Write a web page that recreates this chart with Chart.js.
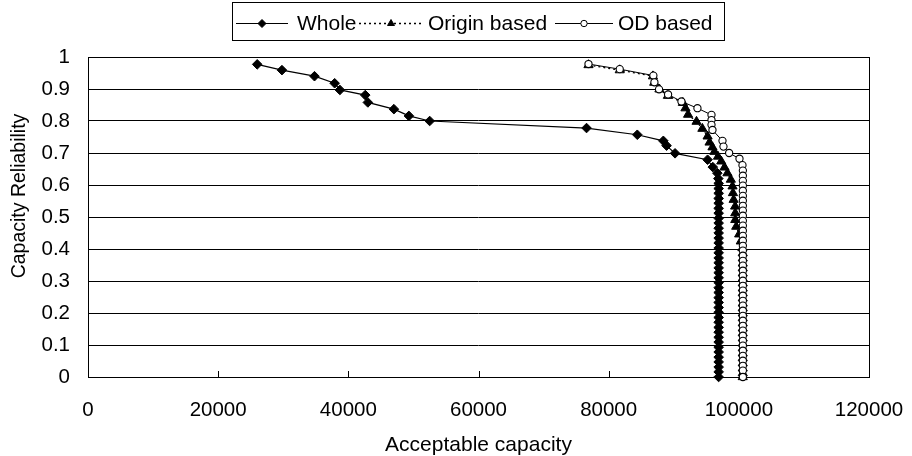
<!DOCTYPE html>
<html><head><meta charset="utf-8">
<script src="https://cdn.jsdelivr.net/npm/chart.js@4.4.0/dist/chart.umd.min.js"></script>
<style>html,body{margin:0;padding:0;background:#fff;}#wrap{width:912px;height:456px;}</style>
</head><body><div id="wrap"><canvas id="c" width="912" height="456"></canvas></div>
<script>
const seriesNames = ['Whole', 'Origin based', 'OD based'];
const xTickLabels = ['0','20000','40000','60000','80000','100000','120000'];
const yTickLabels = ['0','0.1','0.2','0.3','0.4','0.5','0.6','0.7','0.8','0.9','1'];
const xTitle = 'Acceptable capacity';
const yTitle = 'Capacity Reliability';

const wholeCapacity = [26000,29800,34800,37900,38700,42600,43000,47000,49300,52500,76600,84400,88400,88900,90200,95200,96000,96700,96850,
  96900,96900,96900,96900,96900,96900,96900,96900,96900,96900,
  96900,96900,96900,96900,96900,96900,96900,96900,96900,96900,
  96900,96900,96900,96900,96900,96900,96900,96900,96900,96900,
  96900,96900,96900,96900,96900,96900,96900,96900,96900,96900];
const wholeReliability = [0.977,0.959,0.94,0.918,0.897,0.881,0.858,0.837,0.816,0.8,0.778,0.757,0.738,0.723,0.699,0.679,0.656,0.637,
  0.62,0.605,0.589,0.574,0.558,0.543,0.527,0.512,0.496,0.481,
  0.465,0.45,0.434,0.419,0.403,0.388,0.372,0.357,0.341,0.326,
  0.31,0.295,0.279,0.264,0.248,0.233,0.217,0.202,0.186,0.171,
  0.155,0.14,0.124,0.109,0.093,0.078,0.062,0.047,0.031,0.016,0];

const originCapacity = [76900,81700,86800,87000,87800,89100,91400,91800,92200,93500,94400,95200,95500,95950,96250,96800,97300,97800,98250,98770,99030,99100,99200,99430,99450,99450,99600,100050,100300,100550,
  100600,100600,100600,100600,100600,100600,100600,100600,100600,100600,
  100600,100600,100600,100600,100600,100600,100600,100600,100600,100600,
  100600,100600,100600,100600,100600,100600];
const originReliability = [0.975,0.959,0.94,0.92,0.899,0.879,0.857,0.84,0.82,0.798,0.776,0.752,0.733,0.718,0.704,0.689,0.674,0.655,0.637,0.617,0.596,0.575,0.554,0.533,0.512,0.491,0.47,0.446,0.424,0.403,
  0.387,0.371,0.355,0.34,0.324,0.308,0.293,0.277,0.262,0.246,
  0.23,0.215,0.199,0.184,0.168,0.152,0.137,0.121,0.105,0.09,
  0.074,0.059,0.043,0.027,0.012,0];

const odCapacity = [76900,81700,86870,87030,87740,89130,91180,93640,95800,95800,95800,95950,97490,97640,98510,100100,100560,
  100620,100620,100620,100620,100620,100620,100620,100620,100620,100620,
  100620,100620,100620,100620,100620,100620,100620,100620,100620,100620,
  100620,100620,100620,100620,100620,100620,100620,100620,100620,100620,
  100620,100620,100620,100620,100620,100620,100620,100620,100620,100620,
  100620,100620];
const odReliability = [0.978,0.962,0.942,0.921,0.899,0.883,0.861,0.84,0.819,0.803,0.788,0.772,0.738,0.72,0.70,0.682,0.662,
  0.645,0.629,0.613,0.598,0.582,0.566,0.551,0.535,0.52,0.504,
  0.488,0.473,0.457,0.441,0.426,0.41,0.395,0.379,0.363,0.348,
  0.332,0.316,0.301,0.285,0.27,0.254,0.238,0.223,0.207,0.191,
  0.176,0.16,0.145,0.129,0.113,0.098,0.082,0.066,0.051,0.035,
  0.02,0];

function pts(xs, ys){ return xs.map((x,i)=>({x:x, y:ys[i]})); }

const FONT = '"Liberation Sans", Arial, sans-serif';

const datasets = [
  { label: seriesNames[0], data: pts(wholeCapacity, wholeReliability), order: 2,
    showLine: true, borderColor:'#000', borderWidth:1.2, tension:0,
    pointStyle:'rectRot', pointRadius:4.8, pointBackgroundColor:'#000', pointBorderColor:'#000', pointBorderWidth:1, clip:false },
  { label: seriesNames[1], data: pts(originCapacity, originReliability), order: 1,
    showLine: true, borderColor:'#000', borderWidth:1.3, borderDash:[2,3], tension:0,
    pointStyle:'triangle', pointRadius:5.3, pointBackgroundColor:'#000', pointBorderColor:'#000', pointBorderWidth:1, clip:false },
  { label: seriesNames[2], data: pts(odCapacity, odReliability), order: 0,
    showLine: true, borderColor:'#000', borderWidth:1, tension:0,
    pointStyle:'circle', pointRadius:3.6, pointBackgroundColor:'#fff', pointBorderColor:'#000', pointBorderWidth:1.1, clip:false }
];

const legendItems = [
  { ds: 0, lineFrom: 236, lineTo: 288, textX: 297 },
  { ds: 1, lineFrom: 359, lineTo: 423, textX: 428 },
  { ds: 2, lineFrom: 555, lineTo: 613, textX: 618 }
];

const decor = {
  id: 'decor',
  beforeDatasetsDraw(chart) {
    const ctx = chart.ctx, a = chart.chartArea;
    const xs = chart.scales.x;
    ctx.save();
    ctx.strokeStyle = '#000';
    ctx.lineWidth = 1;
    ctx.strokeRect(Math.round(a.left)+0.5, Math.round(a.top)+0.5, Math.round(a.right-a.left), Math.round(a.bottom-a.top));
    ctx.beginPath();
    xs.ticks.forEach(t => {
      const px = Math.round(xs.getPixelForValue(t.value)) + 0.5;
      ctx.moveTo(px, a.bottom);
      ctx.lineTo(px, a.bottom - 6);
    });
    ctx.stroke();
    ctx.restore();
  },
  afterDraw(chart) {
    const ctx = chart.ctx, a = chart.chartArea;
    ctx.save();
    ctx.strokeStyle = '#000';
    ctx.lineWidth = 1;
    ctx.strokeRect(232.5, 2.5, 492, 38);
    const ly = 23;
    ctx.font = '21px ' + FONT;
    ctx.fillStyle = '#000';
    ctx.textBaseline = 'middle';
    ctx.textAlign = 'left';
    legendItems.forEach(it => {
      const d = chart.data.datasets[it.ds];
      ctx.save();
      ctx.strokeStyle = d.borderColor;
      ctx.lineWidth = d.borderWidth;
      ctx.setLineDash(d.borderDash || []);
      ctx.beginPath();
      ctx.moveTo(it.lineFrom, ly + 0.5);
      ctx.lineTo(it.lineTo, ly + 0.5);
      ctx.stroke();
      ctx.setLineDash([]);
      ctx.fillStyle = d.pointBackgroundColor;
      ctx.strokeStyle = d.pointBorderColor;
      ctx.lineWidth = 1;
      Chart.helpers.drawPoint(ctx, { pointStyle: d.pointStyle, radius: d.pointStyle === 'circle' ? 3.2 : 4, rotation: 0, borderWidth: 1 }, (it.lineFrom + it.lineTo) / 2, ly + 0.5);
      ctx.restore();
      ctx.fillText(d.label, it.textX, ly + 1);
    });
    ctx.textAlign = 'center';
    ctx.font = '21px ' + FONT;
    ctx.fillText(xTitle, (a.left + a.right) / 2, 445);
    ctx.save();
    ctx.translate(20, 196);
    ctx.rotate(-Math.PI / 2);
    ctx.font = '19.5px ' + FONT;
    ctx.fillText(yTitle, 0, 0);
    ctx.restore();
    ctx.restore();
  }
};

new Chart(document.getElementById('c'), {
  type: 'scatter',
  data: { datasets },
  options: {
    responsive: false,
    devicePixelRatio: 1,
    animation: false,
    events: [],
    layout: { padding: { top: 57, right: 43, left: 0, bottom: 0 } },
    plugins: { legend: { display: false }, tooltip: { enabled: false } },
    scales: {
      x: {
        type: 'linear', min: 0, max: 120000,
        afterFit(s) { s.height = 79; s.paddingLeft = 0; s.paddingRight = 0; },
        ticks: { stepSize: 20000, color: '#000', padding: 21, maxRotation: 0, autoSkip: false,
          font: { family: FONT, size: 20.5 },
          callback: (v, i) => xTickLabels[i] },
        grid: { display: false, drawTicks: false },
        border: { display: false }
      },
      y: {
        type: 'linear', min: 0, max: 1,
        afterFit(s) { s.width = 88; s.paddingTop = 0; s.paddingBottom = 0; },
        ticks: { stepSize: 0.1, color: '#000', padding: 18, autoSkip: false,
          font: { family: FONT, size: 20.5 },
          callback: (v, i) => yTickLabels[i] },
        grid: { color: '#000', lineWidth: 1, drawTicks: false },
        border: { display: false }
      }
    }
  },
  plugins: [decor]
});
</script>
</body></html>
